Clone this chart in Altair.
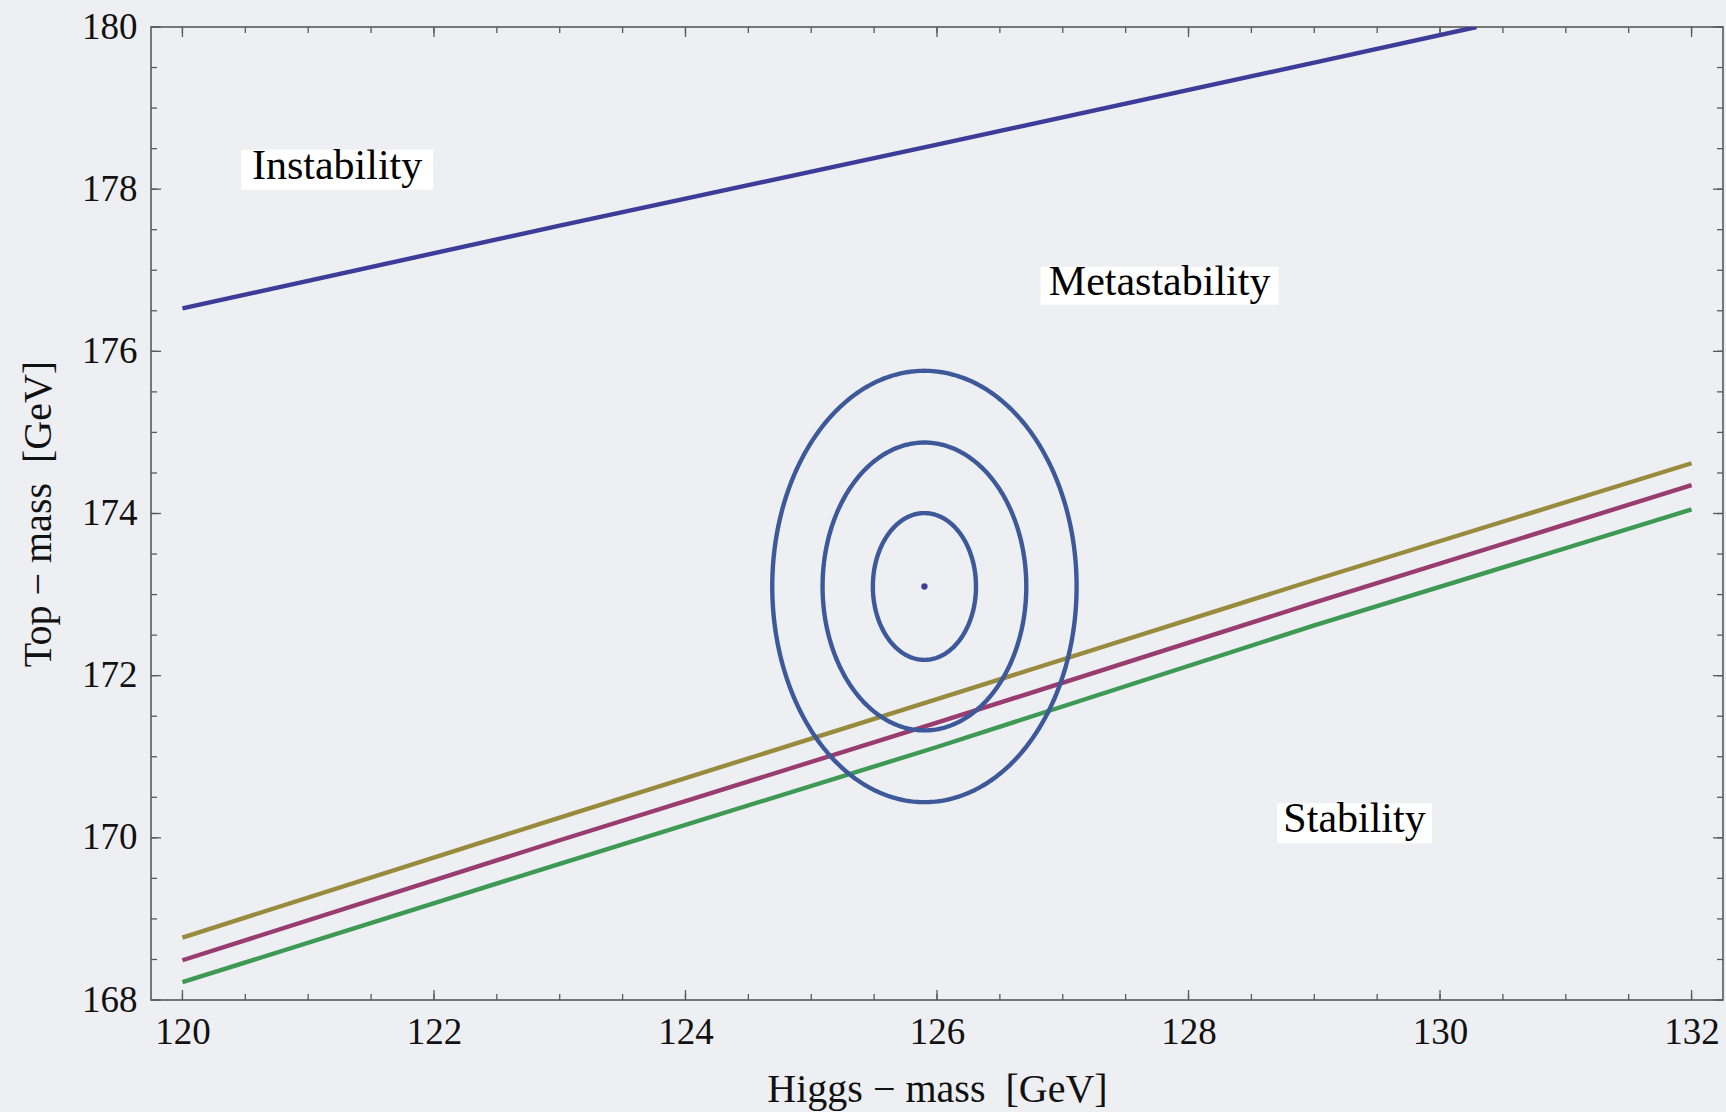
import altair as alt
import pandas as pd
import numpy as np

# ---------------- data ----------------
inst_x = [120.0, 123.0, 126.0, 129.0, 130.29]
inst_y = [176.53, 177.55, 178.55, 179.56, 180.0]

low_x = [120.0, 123.0, 126.0, 129.0, 132.0]
gold_y = [168.77, 170.25, 171.71, 173.18, 174.62]
mag_y = [168.49, 169.97, 171.42, 172.90, 174.35]
green_y = [168.22, 169.68, 171.12, 172.62, 174.05]

ell_center_x = 125.9
ell_center_y = 173.1
ell_a = [0.41, 0.81, 1.21]     # half-widths (GeV, Higgs mass)
ell_b = [0.905, 1.775, 2.66]   # half-heights (GeV, top mass)

label_names = ["Instability", "Metastability", "Stability"]
label_x = [121.23, 127.77, 129.32]
label_y = [178.24, 176.81, 170.18]

x_major = [120, 122, 124, 126, 128, 130, 132]
y_major = [168, 170, 172, 174, 176, 178, 180]
x_minor = [120 + 0.5 * i for i in range(25)]
y_minor = [168 + 0.5 * i for i in range(25)]

# ---------------- styles ----------------
W, H = 1572, 973
BG = "#edeff3"
TICK = "#5a5a5a"
FONT = "Liberation Serif"
C_INST = "#3D3D99"
C_GOLD = "#998B3D"
C_MAG = "#993D71"
C_GREEN = "#3D9954"
C_ELL = "#3D5999"
LW = 4.4
box_w = {"Instability": 192, "Metastability": 238, "Stability": 155}
box_h = {"Instability": 40, "Metastability": 38, "Stability": 40}

xscale = alt.Scale(domain=[119.75, 132.25], nice=False, zero=False)
yscale = alt.Scale(domain=[168, 180], nice=False, zero=False)

xaxis = alt.Axis(
    values=x_major, format="d", grid=False, ticks=False, tickSize=0, domain=False,
    labelFont=FONT, labelFontSize=37, labelColor="#111111", labelPadding=43,
    labelBaseline="alphabetic", labelOverlap=False, labelFlush=False,
    title="Higgs \u2212 mass\u00a0\u00a0[GeV]", titleFont=FONT, titleFontSize=40,
    titleFontWeight="normal", titleColor="#111111", titleY=101,
    titleBaseline="alphabetic",
)
yaxis = alt.Axis(
    values=y_major, format="d", grid=False, ticks=False, tickSize=0, domain=False,
    labelFont=FONT, labelFontSize=37, labelColor="#111111", labelPadding=14,
    labelAlign="right", labelBaseline="middle", labelOverlap=False, labelFlush=False,
    title="Top \u2212 mass\u00a0\u00a0[GeV]", titleFont=FONT, titleFontSize=40,
    titleFontWeight="normal", titleColor="#111111", titleAngle=270,
    titleX=-101, titleY=H / 2, titleBaseline="alphabetic", titleAlign="center",
)


def X(field):
    return alt.X(field, type="quantitative", scale=xscale, axis=xaxis)


def Y(field):
    return alt.Y(field, type="quantitative", scale=yscale, axis=yaxis)


# ---------------- curves ----------------
rows = []
for xv, yv in zip(inst_x, inst_y):
    rows.append({"series": "inst", "x": xv, "y": yv})
for name, ys in (("gold", gold_y), ("mag", mag_y), ("green", green_y)):
    for xv, yv in zip(low_x, ys):
        rows.append({"series": name, "x": xv, "y": yv})
curves_df = pd.DataFrame(rows)

curves = alt.Chart(curves_df).mark_line(strokeWidth=LW, clip=True).encode(
    x=X("x"), y=Y("y"),
    color=alt.Color("series:N",
                    scale=alt.Scale(domain=["inst", "gold", "mag", "green"],
                                    range=[C_INST, C_GOLD, C_MAG, C_GREEN]),
                    legend=None),
)

# ---------------- ellipses (1,2,3 sigma contours) ----------------
theta = np.linspace(0, 2 * np.pi, 361)
erows = []
for k, (a, b) in enumerate(zip(ell_a, ell_b)):
    for i, t in enumerate(theta):
        erows.append({"lvl": k, "i": i,
                      "x": ell_center_x + a * np.cos(t),
                      "y": ell_center_y + b * np.sin(t)})
ell_df = pd.DataFrame(erows)
ellipses = alt.Chart(ell_df).mark_line(strokeWidth=LW, color=C_ELL, clip=True).encode(
    x=X("x"), y=Y("y"), detail="lvl:N", order="i:Q"
)

center_df = pd.DataFrame({"x": [ell_center_x], "y": [ell_center_y]})
center = alt.Chart(center_df).mark_point(
    filled=True, shape="circle", size=40, color=C_INST, opacity=1
).encode(x=X("x"), y=Y("y"))

# ---------------- labels with white boxes ----------------
lab_df = pd.DataFrame({"name": label_names, "x": label_x, "y": label_y})
box_layers = []
for nm in label_names:
    w, h = box_w[nm], box_h[nm]
    r = h / w
    path = f"M-1,-{r:.4f}L1,-{r:.4f}L1,{r:.4f}L-1,{r:.4f}Z"
    box_layers.append(
        alt.Chart(lab_df).transform_filter(alt.datum.name == nm).mark_point(
            shape=path, size=w * w, filled=True, fill="white", opacity=1, strokeWidth=0
        ).encode(x=X("x"), y=Y("y"))
    )
texts = alt.Chart(lab_df).mark_text(
    font=FONT, fontSize=42, baseline="alphabetic", align="center",
    dy=9, color="#000000"
).encode(x=X("x"), y=Y("y"), text="name:N")

# ---------------- inward ticks on all four sides ----------------
def ticks(values, axis, side, length):
    df = pd.DataFrame({"v": values})
    base = alt.Chart(df).mark_rule(color=TICK, strokeWidth=1.3)
    if axis == "x":
        if side == "bottom":
            return base.encode(x=X("v"), y=alt.value(H), y2=alt.value(H - length))
        return base.encode(x=X("v"), y=alt.value(0), y2=alt.value(length))
    if side == "left":
        return base.encode(y=Y("v"), x=alt.value(0), x2=alt.value(length))
    return base.encode(y=Y("v"), x=alt.value(W), x2=alt.value(W - length))


tick_layers = [
    ticks(x_minor, "x", "bottom", 6), ticks(x_major, "x", "bottom", 10),
    ticks(x_minor, "x", "top", 6), ticks(x_major, "x", "top", 10),
    ticks(y_minor, "y", "left", 6), ticks(y_major, "y", "left", 10),
    ticks(y_minor, "y", "right", 6), ticks(y_major, "y", "right", 10),
]

chart = alt.layer(
    *tick_layers, curves, ellipses, center, *box_layers, texts
).properties(
    width=W, height=H,
    autosize=alt.AutoSizeParams(type="none"),
    padding={"left": 151, "top": 27, "right": 3, "bottom": 112},
    background=BG,
).configure_view(
    stroke="#505050", strokeWidth=1.5, fill=BG
)

chart.save("out.html", embed_options={"renderer": "svg", "actions": False})
